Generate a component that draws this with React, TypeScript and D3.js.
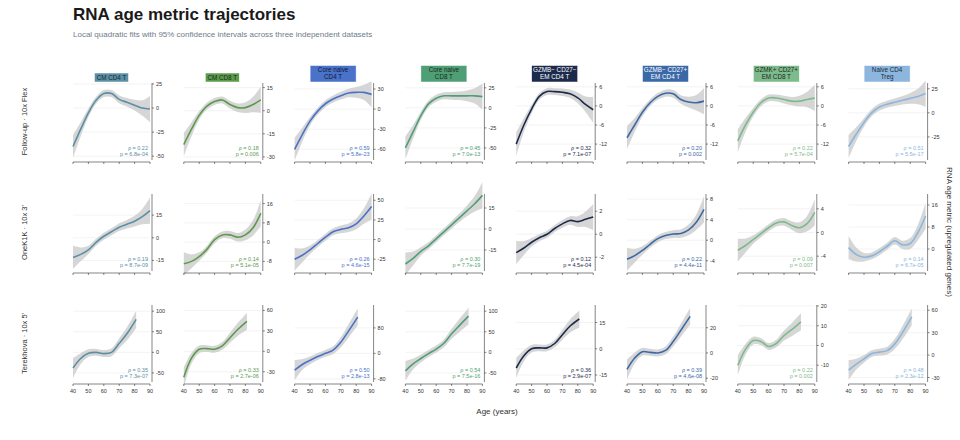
import * as d3 from "d3"

const cellTypes = [
  ["CM CD4 T"], ["CM CD8 T"], ["Core naive", "CD4 T"], ["Core naive", "CD8 T"],
  ["GZMB− CD27−", "EM CD4 T"], ["GZMB− CD27+", "EM CD4 T"], ["GZMK+ CD27+", "EM CD8 T"], ["Naive CD4", "Treg"],
]
const colors = ["#5b8fa3", "#5c9a4c", "#4a72c8", "#4f9f76", "#1c2b4b", "#3b68a6", "#7dba8c", "#8cb6de"]
const titleText = ["#1b2b3b", "#1b2b1b", "#0d1a3a", "#1b2b1b", "#ffffff", "#ffffff", "#1b2b1b", "#1b2b3b"]
const datasets = ["Follow-up · 10x Flex", "OneK1K · 10x 3'", "Terekhova · 10x 5'"]

const agesFull = [40, 45, 50, 55, 60, 65, 70, 75, 80, 85, 90]
const agesShort = [40, 45, 50, 55, 60, 65, 70, 75, 81]
const bandFull = [0.15, 0.09, 0.055, 0.045, 0.045, 0.045, 0.05, 0.055, 0.07, 0.1, 0.17]
const bandShort = [0.13, 0.07, 0.05, 0.045, 0.045, 0.05, 0.065, 0.085, 0.11]

// row 1: Follow-up
const row1Values = [
  [-40, -22, -5, 8, 15, 15, 9, 6, 3, 0, -1],
  [-22, -12, -3, 3, 6, 7, 4, 2, 2, 4, 7],
  [-60, -38, -18, -3, 8, 15, 20, 24, 25, 25, 22],
  [-50, -30, -10, 5, 12, 15, 15, 15, 15, 15, 14],
  [-12, -6, -1, 3, 4.5, 4.5, 4.3, 3.8, 2.5, 0.5, -1.2],
  [-10, -6, -2, 1, 3, 4, 3.8, 2, 1.2, 1, 1.5],
  [-11, -6, -2, 1, 2.5, 2.5, 2, 1.5, 1.5, 2, 2.5],
  [-35, -22, -10, 0, 6, 9, 11, 13, 15, 17, 20],
]
const row1Domains = [[-54, 26], [-32, 18], [-76, 39], [-65, 31], [-17, 7.2], [-17, 7.2], [-17, 7.2], [-49, 31]]
const row1Ticks = [[25, 0, -25, -50], [15, 0, -15, -30], [30, 0, -30, -60], [25, 0, -25, -50], [6, 0, -6, -12], [6, 0, -6, -12], [6, 0, -6, -12], [25, 0, -25]]

// row 2: OneK1K
const row2Values = [
  [-13, -11, -8, -3, 1, 4, 7, 9, 11, 14, 18],
  [-9, -8, -6, -3, 1, 3, 3, 2, 3, 6, 12],
  [-25, -20, -13, -5, 3, 10, 13, 15, 20, 30, 42],
  [-25, -21, -16, -12, -7, -2, 3, 8, 13, 18, 24],
  [-1.6, -1.2, -0.7, -0.3, 0, 0.5, 0.9, 1.2, 1.1, 1.3, 1.5],
  [-3.7, -3, -2, -0.8, 0.3, 0.9, 1.2, 1.3, 2, 3.5, 6],
  [-3, -2.2, -1.2, -0.2, 0.8, 1.6, 1.8, 1.2, 0.8, 1.5, 3.4],
  [0.5, -2, -3, -2.5, -1, 1, 3, 1.5, 2, 6, 12],
]
const row2Domains = [[-22, 29], [-12, 20], [-40, 58], [-30, 25], [-3.2, 3.5], [-6, 9], [-6.5, 6.5], [-8, 20]]
const row2Ticks = [[15, 0, -15], [16, 8, 0, -8], [50, 25, 0, -25], [15, 0, -15], [2, 0, -2], [8, 4, 0, -4], [4, 0, -4], [16, 8, 0]]

// row 3: Terekhova
const row3Values = [
  [-38, -15, -2, 0, -3, 0, 22, 45, 80],
  [-38, -10, 3, 4, 3, 8, 20, 32, 44],
  [-53, -35, -22, -10, 0, 10, 35, 70, 114],
  [-45, -28, -15, -3, 8, 22, 45, 65, 88],
  [-11, -4, 0, 0.5, 0.5, 3, 8, 13, 17],
  [-13, -4, 1, 0.5, 0, 2, 9, 18, 29],
  [-10, -2, 2.5, 2, -0.5, 1, 5, 8, 12],
  [-20, -12, -5, 2, 4, 6, 15, 30, 51],
]
const row3Domains = [[-72, 115], [-45, 68], [-90, 152], [-72, 115], [-19, 25], [-23, 38], [-18.5, 20.5], [-36, 67]]
const row3Ticks = [[100, 50, 0, -50], [60, 30, 0, -30], [80, 0, -80], [100, 50, 0, -50], [15, 0, -15], [20, 0, -20], [20, 10, 0, -10], [60, 30, 0, -30]]

const rhos = [
  ["0.22", "0.18", "0.59", "0.45", "0.32", "0.20", "0.22", "0.51"],
  ["0.19", "0.14", "0.26", "0.30", "0.12", "0.22", "0.09", "0.14"],
  ["0.35", "0.33", "0.50", "0.54", "0.36", "0.39", "0.22", "0.48"],
]
const pvals = [
  ["6.8e-04", "0.006", "5.8e-23", "7.0e-13", "7.1e-07", "0.002", "5.7e-04", "5.5e-17"],
  ["8.7e-09", "5.1e-05", "4.6e-15", "7.7e-19", "4.5e-04", "4.4e-11", "0.007", "6.7e-05"],
  ["7.3e-07", "2.7e-06", "2.8e-13", "7.5e-16", "2.9e-07", "4.6e-08", "0.002", "2.3e-12"],
]
const xTicks = [40, 50, 60, 70, 80, 90]

const rows = [
  { values: row1Values, domains: row1Domains, ticks: row1Ticks, ages: agesFull, band: bandFull },
  { values: row2Values, domains: row2Domains, ticks: row2Ticks, ages: agesFull, band: bandFull },
  { values: row3Values, domains: row3Domains, ticks: row3Ticks, ages: agesShort, band: bandShort },
]

const font = "Liberation Sans, Arial, sans-serif"
const left0 = 73, colStep = 110.8, pw = 77
const top0 = 83, rowStep = 111, ph = 77

function Panel({ r, c }: { r: number; c: number }) {
  const row = rows[r]
  const x0 = left0 + c * colStep
  const y0 = top0 + r * rowStep
  const x = d3.scaleLinear().domain([40, 90]).range([x0, x0 + pw])
  const [lo, hi] = row.domains[c]
  const y = d3.scaleLinear().domain([lo, hi]).range([y0 + ph, y0])
  const vals = row.values[c]
  const span = hi - lo
  const pts = row.ages.map((a, i) => ({ a, v: vals[i], h: row.band[i] * span }))
  const curve = d3.curveCatmullRom.alpha(0.5)
  const line = d3.line<any>().x((d) => x(d.a)).y((d) => y(d.v)).curve(curve)
  const area = d3.area<any>().x((d) => x(d.a)).y0((d) => y(d.v - d.h)).y1((d) => y(d.v + d.h)).curve(curve)
  const axisY = y0 + ph + 2
  const title = cellTypes[c]
  const boxH = title.length * 7.5 + 1.5
  const boxW = title.length > 1 ? 46 : 34
  return (
    <g>
      {row.ticks[c].map((t) => (
        <line key={t} x1={x0} x2={x0 + pw} y1={y(t)} y2={y(t)} stroke="#eeeeee" strokeWidth={0.7} />
      ))}
      <path d={area(pts) || ""} fill="#c8c8c8" opacity={0.75} />
      <path d={line(pts) || ""} fill="none" stroke={colors[c]} strokeWidth={1.6} />
      <line x1={x0 + pw + 2} x2={x0 + pw + 2} y1={y0} y2={y0 + ph} stroke="#333" strokeWidth={0.6} />
      {row.ticks[c].map((t) => (
        <g key={t}>
          <line x1={x0 + pw + 2} x2={x0 + pw + 4} y1={y(t)} y2={y(t)} stroke="#333" strokeWidth={0.6} />
          <text x={x0 + pw + 6} y={y(t) + 2} fontSize={5.5} fill="#333" fontFamily={font}>
            {t < 0 ? `-${Math.abs(t)}` : t}
          </text>
        </g>
      ))}
      <line x1={x0} x2={x0 + pw} y1={axisY} y2={axisY} stroke="#333" strokeWidth={0.6} />
      {xTicks.map((t) => (
        <g key={t}>
          <line x1={x(t)} x2={x(t)} y1={axisY} y2={axisY + 2} stroke="#333" strokeWidth={0.6} />
          {r === 2 && (
            <text x={x(t)} y={axisY + 9} fontSize={5.5} textAnchor="middle" fill="#333" fontFamily={font}>{t}</text>
          )}
        </g>
      ))}
      <text x={x0 + pw - 2} y={y0 + ph - 10} fontSize={5.5} textAnchor="end" fill={colors[c]} fontFamily={font}>ρ = {rhos[r][c]}</text>
      <text x={x0 + pw - 2} y={y0 + ph - 4} fontSize={5.5} textAnchor="end" fill={colors[c]} fontFamily={font}>p = {pvals[r][c]}</text>
      {r === 0 && (
        <g>
          <rect x={x0 + pw / 2 - boxW / 2} y={y0 - 1 - boxH} width={boxW} height={boxH} fill={colors[c]} stroke="#ffffff" strokeWidth={0.5} />
          {title.map((s, i) => (
            <text key={i} x={x0 + pw / 2} y={y0 - 1 - boxH + 6.8 + i * 7} fontSize={6.3} textAnchor="middle" fill={titleText[c]} fontFamily={font}>{s}</text>
          ))}
        </g>
      )}
    </g>
  )
}

export default function App() {
  return (
    <svg width={960} height={440} style={{ position: "absolute", left: 0, top: 0, background: "#fff" }}>
      <text x={73} y={20} fontSize={17} fontWeight="bold" fill="#1a1a1a" fontFamily={font}>RNA age metric trajectories</text>
      <text x={73} y={37} fontSize={8} fill="#6f7b8a" fontFamily={font}>Local quadratic fits with 95% confidence intervals across three independent datasets</text>
      {datasets.map((d, r) => (
        <text key={d} transform={`translate(27,${top0 + r * rowStep + ph / 2}) rotate(-90)`} fontSize={7.5} textAnchor="middle" fill="#333" fontFamily={font}>{d}</text>
      ))}
      {rows.map((_, r) => cellTypes.map((_, c) => <Panel key={`${r}-${c}`} r={r} c={c} />))}
      <text x={497} y={414} fontSize={8} textAnchor="middle" fill="#333" fontFamily={font}>Age (years)</text>
      <text transform="translate(947,232) rotate(90)" fontSize={8} textAnchor="middle" fill="#333" fontFamily={font}>RNA age metric (upregulated genes)</text>
    </svg>
  )
}
